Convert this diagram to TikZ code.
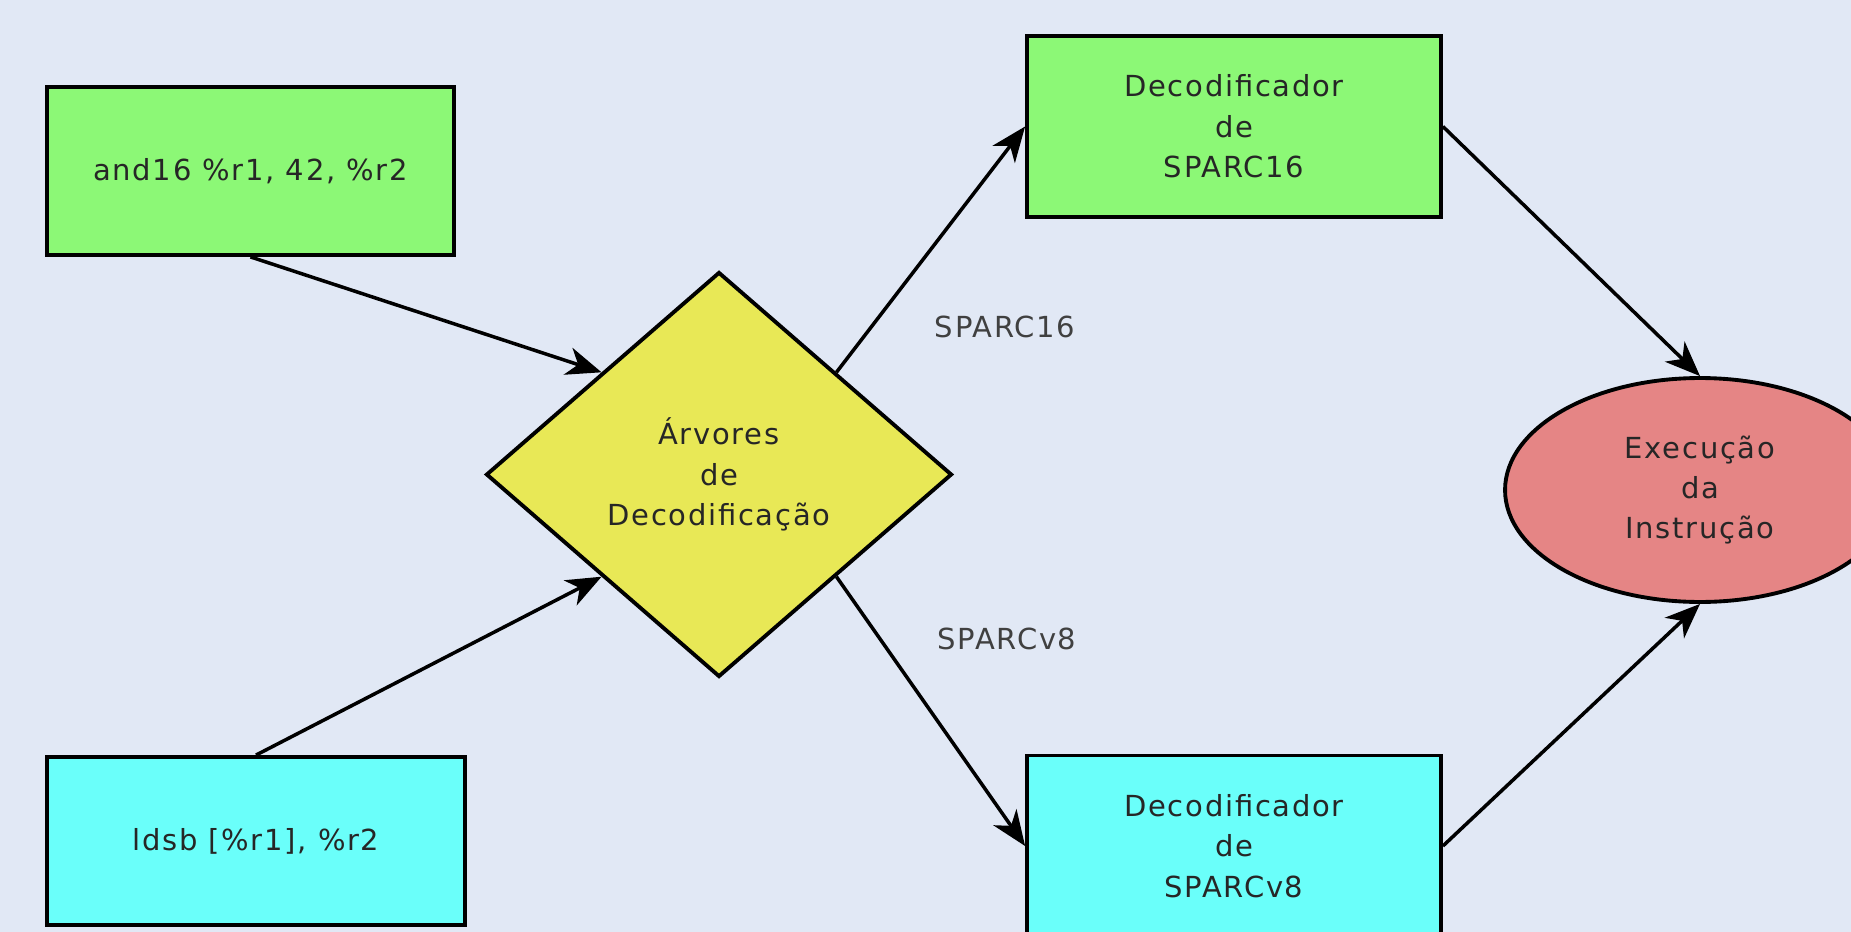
\documentclass[tikz,border=0pt]{standalone}
\usepackage{fontspec}
\setmainfont[LetterSpace=6]{DejaVu Sans}
\usepackage{tikz}
\usetikzlibrary{shapes.geometric,arrows.meta}

\definecolor{fundo}{HTML}{E1E8F5}
\definecolor{verde}{HTML}{8CF876}
\definecolor{ciano}{HTML}{6AFFFA}
\definecolor{amarelo}{HTML}{E8E856}
\definecolor{rosa}{HTML}{E58585}

\begin{document}
\begin{tikzpicture}[x=0.02cm,y=-0.02cm,
        every node/.style={font=\fontsize{16.5}{23}\selectfont, align=center, text=black!85},
        caixa/.style={draw=black, line width=2.2pt, rectangle, inner sep=0pt},
        seta/.style={line width=2pt, -{Stealth[length=20pt, width=16pt, inset=6pt]}}]
        \fill[fundo] (0,0) rectangle (1851,932);
        \useasboundingbox (0,0) rectangle (1851,932);

        \node[caixa, fill=verde, minimum width=8.14cm, minimum height=3.36cm] (and16) at (250.5,171) {and16 \%r1, 42, \%r2};
        \node[caixa, fill=ciano, minimum width=8.36cm, minimum height=3.36cm] (ldsb) at (256,841) {ldsb [\%r1], \%r2};
        \node[draw=black, line width=2.2pt, diamond, aspect=1.15, inner sep=0pt, fill=amarelo,
              minimum width=9.32cm, minimum height=8.1cm] (arvores) at (719,474.5) {Árvores\\de\\Decodificação};
        \node[caixa, fill=verde, minimum width=8.28cm, minimum height=3.62cm] (dec16) at (1234,126.5) {Decodificador\\de\\SPARC16};
        \node[caixa, fill=ciano, minimum width=8.28cm, minimum height=3.62cm] (decv8) at (1234,846) {Decodificador\\de\\SPARCv8};
        \node[draw=black, line width=2.2pt, ellipse, inner sep=0pt, fill=rosa,
              minimum width=7.8cm, minimum height=4.48cm] (exec) at (1700,490) {Execução\\da\\Instrução};

        \node[text=black!75] (rot16) at (1005,327) {SPARC16};
        \node[text=black!75] (rotv8) at (1007,639) {SPARCv8};

        \draw[seta] (and16.south) -- (arvores.north west);
        \draw[seta] (ldsb.north) -- (arvores.south west);
        \draw[seta] (arvores.north east) -- (dec16.west);
        \draw[seta] (arvores.south east) -- (decv8.west);
        \draw[seta] (dec16.east) -- (exec.north);
        \draw[seta] (decv8.east) -- (exec.south);
    \end{tikzpicture}
\end{document}
